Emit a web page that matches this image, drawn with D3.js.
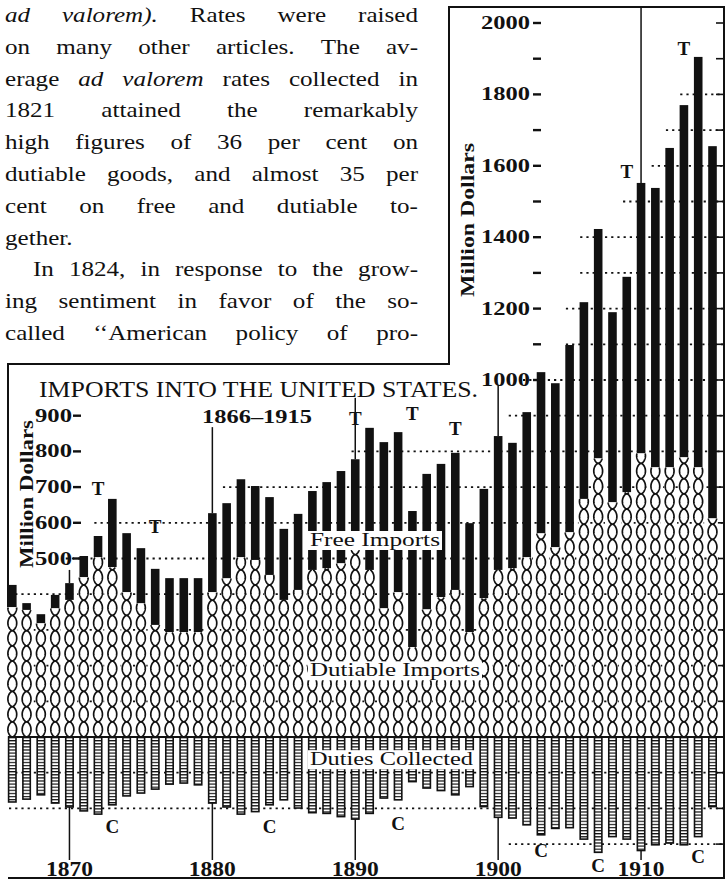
<!DOCTYPE html>
<html><head><meta charset="utf-8">
<script src="https://cdn.jsdelivr.net/npm/d3@7"></script>
<style>body{margin:0;background:#fff}svg{display:block}</style>
</head><body>
<svg id="c" width="727" height="881"></svg>
<script>
// ---------------- DATA ----------------
const years = [1866,1867,1868,1869,1870,1871,1872,1873,1874,1875,1876,1877,1878,1879,1880,1881,1882,1883,1884,1885,1886,1887,1888,1889,1890,1891,1892,1893,1894,1895,1896,1897,1898,1899,1900,1901,1902,1903,1904,1905,1906,1907,1908,1909,1910,1911,1912,1913,1914,1915];
// total imports (free + dutiable), million dollars
const totalImports = [426,375,344,398,431,507,563,667,571,529,471,445,445,445,627,655,722,703,672,583,625,689,714,745,778,866,826,854,633,737,765,796,599,695,843,824,910,1022,991,1098,1218,1423,1190,1289,1552,1538,1650,1770,1905,1655];
// dutiable imports, million dollars
const dutiableImports = [364,356,319,361,384,448,504,476,406,375,314,294,294,294,406,445,504,496,454,384,412,468,473,487,524,468,361,406,252,358,392,412,294,389,468,473,504,571,532,574,667,781,658,686,795,756,756,784,756,613];
// duties collected, million dollars (drawn downward)
const dutiesCollected = [182,174,162,185,196,207,216,190,165,157,146,132,129,134,185,196,216,209,190,176,199,212,214,223,230,214,171,176,125,143,150,162,139,195,225,227,246,274,256,254,286,323,279,286,318,302,297,302,279,195];

const leftTickLabels = [500,600,700,800,900];
const rightTickLabels = [1000,1200,1400,1600,1800,2000];
const rightMinorTicks = [1100,1300,1500,1700,1900];
const gridLevels = [100,200,300,400,500,600,700,800,900,1000,1100,1200,1300,1400,1500,1600,1700,1800];
const dutyGridLevels = [100,200,300];
const dutyGridFromYears = [1866,1866,1902];
const borderTicks = [-300,-200,-100,0,100,200,300,400,500,600,700,800,900,1000,1100,1200,1300,1400,1500,1600,1700,1800,1900,2000];

const decadeYears = [1870,1880,1890,1900,1910];
const decadeTopValues = [468,868,950,985,2045];
const tariffYears = [1872,1876,1890,1894,1897,1909,1913];
const tariffLabelValues = [678,571,874,888,846,1566,1910];
const crisisYears = [1873,1884,1893,1903,1907,1914];
const crisisLabelValues = [-269,-269,-260,-336,-378,-353];

const titleText = "IMPORTS INTO THE UNITED STATES.";
const periodText = "1866\u20131915";
const axisTitle = "Million Dollars";
const seriesLabels = ["Free Imports","Dutiable Imports","Duties Collected"];
const seriesLabelValues = [535,170,-79];

// body text lines: [word, italic]
const textLines = [
  {w:[["ad",1],["valorem).",1],["Rates",0],["were",0],["raised",0]], j:1},
  {w:[["on",0],["many",0],["other",0],["articles.",0],["The",0],["av-",0]], j:1},
  {w:[["erage",0],["ad",1],["valorem",1],["rates",0],["collected",0],["in",0]], j:1},
  {w:[["1821",0],["attained",0],["the",0],["remarkably",0]], j:1},
  {w:[["high",0],["figures",0],["of",0],["36",0],["per",0],["cent",0],["on",0]], j:1},
  {w:[["dutiable",0],["goods,",0],["and",0],["almost",0],["35",0],["per",0]], j:1},
  {w:[["cent",0],["on",0],["free",0],["and",0],["dutiable",0],["to-",0]], j:1},
  {w:[["gether.",0]], j:0},
  {w:[["In",0],["1824,",0],["in",0],["response",0],["to",0],["the",0],["grow-",0]], j:1, indent:1},
  {w:[["ing",0],["sentiment",0],["in",0],["favor",0],["of",0],["the",0],["so-",0]], j:1},
  {w:[["called",0],["\u2018\u2018American",0],["policy",0],["of",0],["pro-",0]], j:1}
];

// ---------------- DRAW ----------------
const svg = d3.select("#c");
const x = d3.scaleLinear().domain([1866,1915]).range([12.3,712.5]);
const y = d3.scaleLinear().domain([0,2000]).range([737,23]);
const INK = "#111";
const SERIF = "'Liberation Serif', 'DejaVu Serif', serif";

// body text (glyphs widened, justified by word spacing)
const tb = svg.append("g").attr("font-family",SERIF).attr("font-size",22).attr("fill",INK);
const STRETCH = 1.14;
textLines.forEach((ln,i)=>{
  const yy = 22 + i*31.8;
  const nodes = ln.w.map(w=>tb.append("text").attr("y",yy).attr("font-style",w[1]?"italic":"normal").text(w[0]));
  const widths = nodes.map(n=>{
    const wdt = n.node().getComputedTextLength()*STRETCH;
    n.attr("textLength",wdt).attr("lengthAdjust","spacingAndGlyphs");
    return wdt;
  });
  const x0 = ln.indent ? 33 : 5, x1 = 418;
  const gap = ln.j && nodes.length>1 ? (x1-x0-d3.sum(widths))/(nodes.length-1) : 7;
  let cx = x0;
  nodes.forEach((n,k)=>{ n.attr("x",cx); cx += widths[k]+gap; });
});

// frame
svg.append("path")
  .attr("d","M8,737 V364 H449 V7 H724 V878 H8")
  .attr("fill","none").attr("stroke",INK).attr("stroke-width",2);

// dotted gridlines (start a little before the first bar reaching the level)
const gg = svg.append("g").attr("stroke",INK).attr("stroke-width",1.8).attr("stroke-dasharray","2.2,4");
gridLevels.forEach(v=>{
  const idx = totalImports.findIndex(t=>t>=v);
  const xs = Math.max(9, x(years[idx]) - 18);
  gg.append("line").attr("x1",xs).attr("x2",723).attr("y1",y(v)).attr("y2",y(v));
});
dutyGridLevels.forEach((v,i)=>{
  const xs = Math.max(9, x(dutyGridFromYears[i]) - 18);
  gg.append("line").attr("x1",xs).attr("x2",723).attr("y1",y(-v)).attr("y2",y(-v));
});

// right border ticks
svg.append("g").selectAll("line").data(borderTicks).join("line")
  .attr("x1",716).attr("x2",724).attr("y1",d=>y(d)).attr("y2",d=>y(d))
  .attr("stroke",INK).attr("stroke-width",1.6);

// ladder pattern for duties
const defs = svg.append("defs");
const pat = defs.append("pattern").attr("id","ladder").attr("patternUnits","userSpaceOnUse")
  .attr("x",0).attr("y",737).attr("width",20).attr("height",3.1);
pat.append("rect").attr("width",20).attr("height",3.1).attr("fill","#fff");
pat.append("rect").attr("width",20).attr("height",1.2).attr("fill",INK);

const bars = years.map((yr,i)=>({yr, total:totalImports[i], dut:dutiableImports[i], duty:dutiesCollected[i]}));
const BW = 8.6, A = 4.4, H = 15.2;

// braid (dutiable imports)
const braidG = svg.append("g");
const line = d3.line();
bars.forEach(b=>{
  const cx = x(b.yr), yb = y(0), yt = y(b.dut);
  braidG.append("rect").attr("x",cx-A-1).attr("y",yt).attr("width",2*A+2).attr("height",yb-yt).attr("fill","#fff");
  const p1=[], p2=[];
  for(let yy=yb; yy>=yt-0.01; yy-=0.5){
    const s = Math.sin(Math.PI*(yb-yy)/H);
    const f = Math.sign(s)*Math.pow(Math.abs(s),0.55);
    p1.push([cx+A*f,yy]); p2.push([cx-A*f,yy]);
  }
  braidG.append("path").attr("d",line(p1)).attr("fill","none").attr("stroke",INK).attr("stroke-width",1.7);
  braidG.append("path").attr("d",line(p2)).attr("fill","none").attr("stroke",INK).attr("stroke-width",1.7);
});

// free imports (black)
svg.append("g").selectAll("rect").data(bars).join("rect")
  .attr("x",d=>x(d.yr)-BW/2).attr("width",BW)
  .attr("y",d=>y(d.total)).attr("height",d=>y(d.dut)-y(d.total))
  .attr("fill",INK);

// duties collected (ladder bars downward)
svg.append("g").selectAll("rect").data(bars).join("rect")
  .attr("x",d=>x(d.yr)-3.7).attr("width",7.4)
  .attr("y",y(0)).attr("height",d=>y(-d.duty)-y(0))
  .attr("fill","url(#ladder)").attr("stroke",INK).attr("stroke-width",1.6);

// baseline
svg.append("line").attr("x1",8).attr("x2",724).attr("y1",y(0)).attr("y2",y(0))
  .attr("stroke",INK).attr("stroke-width",1.8);

// decade marker lines and labels
const dg = svg.append("g").attr("stroke",INK).attr("stroke-width",1.5);
decadeYears.forEach((yr,i)=>{
  const b = bars[years.indexOf(yr)];
  dg.append("line").attr("x1",x(yr)).attr("x2",x(yr)).attr("y1",y(decadeTopValues[i])).attr("y2",y(b.total));
  dg.append("line").attr("x1",x(yr)).attr("x2",x(yr)).attr("y1",y(-b.duty)).attr("y2",860);
});
svg.append("g").selectAll("text").data(decadeYears).join("text")
  .attr("x",d=>x(d)).attr("y",876).attr("text-anchor","middle")
  .attr("font-family",SERIF).attr("font-weight","bold").attr("font-size",20)
  .attr("textLength",47).attr("lengthAdjust","spacingAndGlyphs").attr("fill",INK)
  .text(d=>d);

// tariff (T) and crisis (C) markers
svg.append("g").selectAll("text").data(tariffYears).join("text")
  .attr("x",d=>x(d)).attr("y",(d,i)=>y(tariffLabelValues[i])).attr("text-anchor","middle")
  .attr("font-family",SERIF).attr("font-weight","bold").attr("font-size",19).attr("fill",INK).text("T");
svg.append("g").selectAll("text").data(crisisYears).join("text")
  .attr("x",d=>x(d)).attr("y",(d,i)=>y(crisisLabelValues[i])).attr("text-anchor","middle")
  .attr("font-family",SERIF).attr("font-weight","bold").attr("font-size",19).attr("fill",INK).text("C");

// left axis labels
const la = svg.append("g").attr("font-family",SERIF).attr("font-weight","bold").attr("font-size",18).attr("fill",INK);
leftTickLabels.forEach(v=>{
  la.append("text").attr("x",72).attr("y",y(v)+6).attr("text-anchor","end")
    .attr("textLength",37).attr("lengthAdjust","spacingAndGlyphs").text(v);
  la.append("line").attr("x1",73).attr("x2",81).attr("y1",y(v)).attr("y2",y(v)).attr("stroke",INK).attr("stroke-width",2.4);
});
// right axis labels
rightTickLabels.forEach(v=>{
  la.append("text").attr("x",530).attr("y",y(v)+6).attr("text-anchor","end")
    .attr("textLength",49).attr("lengthAdjust","spacingAndGlyphs").text(v);
  la.append("line").attr("x1",533).attr("x2",541).attr("y1",y(v)).attr("y2",y(v)).attr("stroke",INK).attr("stroke-width",2.4);
});
rightMinorTicks.forEach(v=>{
  la.append("line").attr("x1",533).attr("x2",541).attr("y1",y(v)).attr("y2",y(v)).attr("stroke",INK).attr("stroke-width",2.4);
});
// axis titles
la.append("text").attr("transform","translate(33,494) rotate(-90)").attr("text-anchor","middle")
  .attr("font-size",18).attr("textLength",148).attr("lengthAdjust","spacingAndGlyphs").text(axisTitle);
la.append("text").attr("transform","translate(474,220) rotate(-90)").attr("text-anchor","middle")
  .attr("font-size",18).attr("textLength",154).attr("lengthAdjust","spacingAndGlyphs").text(axisTitle);

// title and period
svg.append("text").attr("x",39).attr("y",397).attr("font-family",SERIF).attr("font-size",24)
  .attr("textLength",439).attr("lengthAdjust","spacingAndGlyphs").attr("fill",INK).text(titleText);
svg.append("text").attr("x",202).attr("y",423).attr("font-family",SERIF).attr("font-weight","bold").attr("font-size",19)
  .attr("textLength",110).attr("lengthAdjust","spacingAndGlyphs").attr("fill",INK).text(periodText);

// series labels with white backgrounds
const sl = svg.append("g");
const labelWidths = [130,170,163];
seriesLabels.forEach((t,i)=>{
  const by = y(seriesLabelValues[i]);
  sl.append("rect").attr("x",308).attr("y",by-15).attr("width",labelWidths[i]+4).attr("height",19).attr("fill","#fff");
  sl.append("text").attr("x",310).attr("y",by).attr("font-family",SERIF).attr("font-size",19)
    .attr("textLength",labelWidths[i]).attr("lengthAdjust","spacingAndGlyphs").attr("fill",INK).text(t);
});
</script>
</body></html>
